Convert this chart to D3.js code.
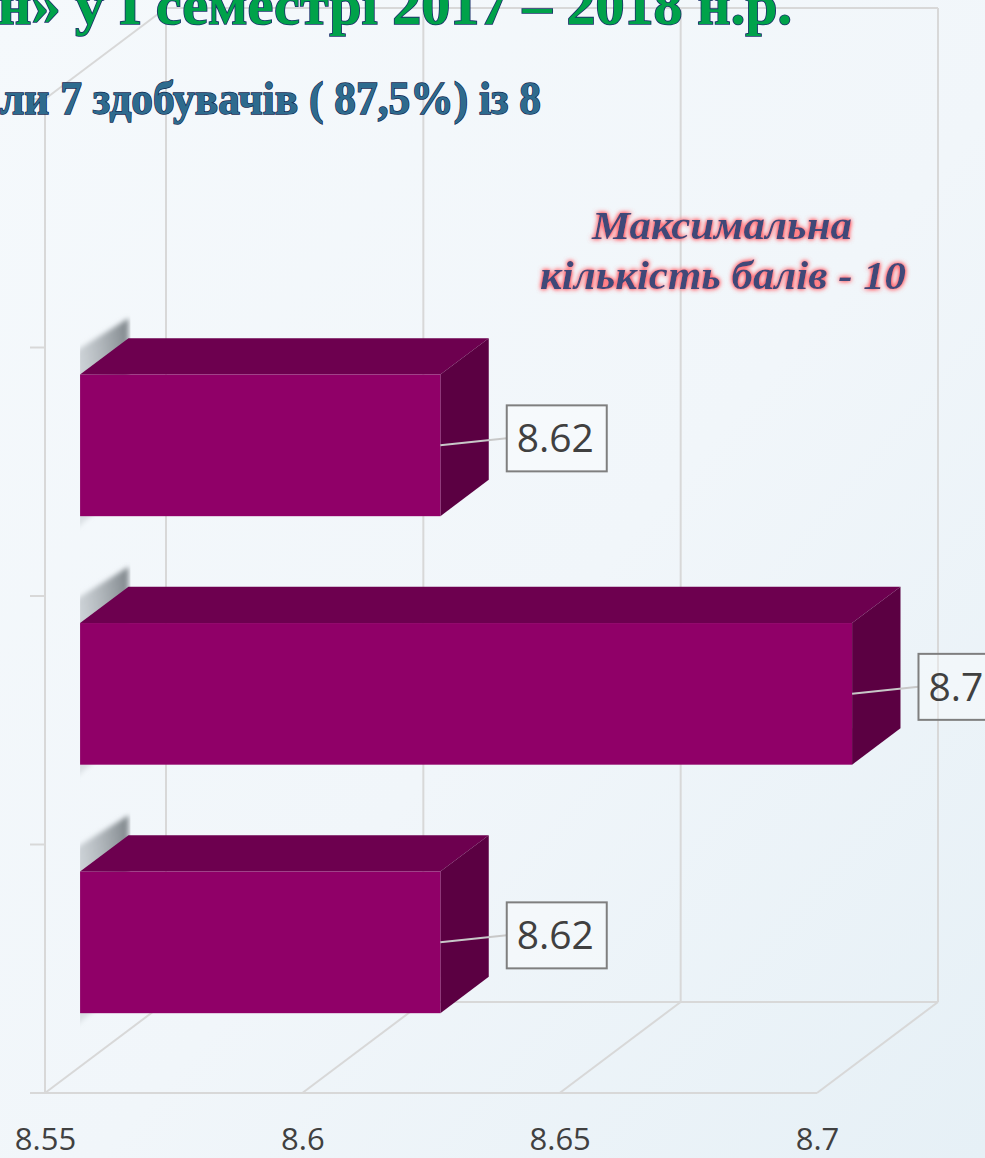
<!DOCTYPE html>
<html>
<head>
<meta charset="utf-8">
<script src="https://cdn.jsdelivr.net/npm/d3@7"></script>
<style>
  body { margin: 0; overflow: hidden; background: #f2f7fb; }
</style>
</head>
<body>
<svg id="chart"></svg>
<script>
const width = 985, height = 1158;

// Data (bottom -> top, top slot is empty in the original chart)
const categories = ["1", "2", "3", "4"];
const values = [8.62, 8.7, 8.62, null];
const xTicks = [8.55, 8.6, 8.65, 8.7];
const titleText = "н» у І семестрі 2017 – 2018 н.р.";
const subtitleText = "ли 7 здобувачів ( 87,5%)  із 8";
const noteLines = ["Максимальна", "кількість балів - 10"];

// Layout of the 3D box (front plane + depth offset)
const plot = { left: 45, right: 817, top: 99, bottom: 1093 };
const depth = { dx: 121, dy: -91 };
const barDepth = [0.29, 0.69];

const svg = d3.select("#chart")
    .attr("width", width)
    .attr("height", height)
    .attr("viewBox", [0, 0, width, height]);

const defs = svg.append("defs");

// Background gradient
const bg = defs.append("linearGradient").attr("id", "bg")
    .attr("x1", 0).attr("y1", 0).attr("x2", 1).attr("y2", 1);
bg.append("stop").attr("offset", "0%").attr("stop-color", "#f5f9fc");
bg.append("stop").attr("offset", "55%").attr("stop-color", "#f1f6fa");
bg.append("stop").attr("offset", "100%").attr("stop-color", "#e6f0f6");

// Blur used for the bar shadows on the side wall
defs.append("filter").attr("id", "soft")
    .attr("x", "-50%").attr("y", "-50%").attr("width", "200%").attr("height", "200%")
    .append("feGaussianBlur").attr("stdDeviation", 2.5);

// Pink glow behind the note text
const glow = defs.append("filter").attr("id", "glow")
    .attr("x", "-10%").attr("y", "-30%").attr("width", "120%").attr("height", "160%");
glow.append("feGaussianBlur").attr("in", "SourceAlpha").attr("stdDeviation", 2.5).attr("result", "b");
glow.append("feFlood").attr("flood-color", "#ff7f86").attr("result", "c");
glow.append("feComposite").attr("in", "c").attr("in2", "b").attr("operator", "in").attr("result", "g");
glow.append("feComponentTransfer").attr("in", "g").attr("result", "g2")
    .append("feFuncA").attr("type", "linear").attr("slope", 2.2);
const gm = glow.append("feMerge");
gm.append("feMergeNode").attr("in", "g2");
gm.append("feMergeNode").attr("in", "SourceGraphic");

const shadowGrad = defs.append("linearGradient").attr("id", "shadowGrad")
    .attr("x1", 1).attr("y1", 0).attr("x2", 0).attr("y2", 0.4);
shadowGrad.append("stop").attr("offset", "0%").attr("stop-color", "#7d8489").attr("stop-opacity", 1);
shadowGrad.append("stop").attr("offset", "100%").attr("stop-color", "#c3c9ce").attr("stop-opacity", 0.5);

svg.append("rect").attr("width", width).attr("height", height).attr("fill", "url(#bg)");

// Scales (front plane)
const xScale = d3.scaleLinear().domain([8.55, 8.7]).range([plot.left, plot.right]);
const yScale = d3.scaleBand().domain(categories)
    .range([plot.bottom, plot.top])
    .paddingInner(0.43)
    .paddingOuter(0.215);

// project a front-plane point to a depth fraction f
const P = (px, py, f) => [px + f * depth.dx, py + f * depth.dy];
const pts = arr => arr.map(p => p.join(",")).join(" ");

const grid = svg.append("g").attr("stroke", "#d8d8d8").attr("stroke-width", 2).attr("fill", "none");

// back wall vertical gridlines
grid.selectAll(".back").data(xTicks).enter().append("line")
    .attr("x1", d => P(xScale(d), plot.top, 1)[0])
    .attr("x2", d => P(xScale(d), plot.top, 1)[0])
    .attr("y1", P(0, plot.top, 1)[1])
    .attr("y2", P(0, plot.bottom, 1)[1]);

// back wall top edge
grid.append("line")
    .attr("x1", P(plot.left, plot.top, 1)[0]).attr("x2", P(plot.right, plot.top, 1)[0])
    .attr("y1", P(0, plot.top, 1)[1]).attr("y2", P(0, plot.top, 1)[1]);

// floor back edge and front edge
grid.append("line")
    .attr("x1", P(plot.left, plot.bottom, 1)[0]).attr("x2", P(plot.right, plot.bottom, 1)[0])
    .attr("y1", P(0, plot.bottom, 1)[1]).attr("y2", P(0, plot.bottom, 1)[1]);
grid.append("line")
    .attr("x1", plot.left - 15).attr("x2", plot.right)
    .attr("y1", plot.bottom).attr("y2", plot.bottom);

// floor diagonals
grid.selectAll(".floor").data(xTicks).enter().append("line")
    .attr("x1", d => xScale(d)).attr("y1", plot.bottom)
    .attr("x2", d => P(xScale(d), plot.bottom, 1)[0])
    .attr("y2", d => P(xScale(d), plot.bottom, 1)[1]);

// side wall: front vertical edge and top diagonal
grid.append("line")
    .attr("x1", plot.left).attr("x2", plot.left)
    .attr("y1", plot.top).attr("y2", plot.bottom);
grid.append("line")
    .attr("x1", plot.left).attr("y1", plot.top)
    .attr("x2", P(plot.left, plot.top, 1)[0]).attr("y2", P(plot.left, plot.top, 1)[1]);

// category ticks on the left axis
const step = yScale.step();
const boundaries = d3.range(categories.length + 1).map(i => plot.top + i * step);
grid.selectAll(".ytick").data(boundaries).enter().append("line")
    .attr("x1", plot.left - 15).attr("x2", plot.left)
    .attr("y1", d => d).attr("y2", d => d);

// Bars
const barData = categories.map((c, i) => ({ c, v: values[i] })).filter(d => d.v != null);
const [f0, f1] = barDepth;

const bars = svg.append("g").selectAll("g").data(barData).enter().append("g");

bars.each(function(d) {
    const g = d3.select(this);
    const x0 = xScale(8.55), x1 = xScale(d.v);
    const top = yScale(d.c), bot = top + yScale.bandwidth();

    // soft shadow of the bar end against the side wall
    const clipId = "clip-" + d.c;
    defs.append("clipPath").attr("id", clipId).append("rect")
        .attr("x", P(x0, 0, f0)[0]).attr("y", 0)
        .attr("width", (f1 - f0) * depth.dx + 2).attr("height", height);
    g.append("g").attr("clip-path", `url(#${clipId})`)
        .append("polygon")
        .attr("points", pts([P(x0 - 10, top - 20, f0), P(x0, top - 20, f1), P(x0, bot + 2, f1), P(x0 - 10, bot + 18, f0)]))
        .attr("fill", "url(#shadowGrad)")
        .attr("filter", "url(#soft)");

    // top face
    g.append("polygon")
        .attr("points", pts([P(x0, top, f0), P(x1, top, f0), P(x1, top, f1), P(x0, top, f1)]))
        .attr("fill", "#6d004f");
    // right side face
    g.append("polygon")
        .attr("points", pts([P(x1, top, f0), P(x1, top, f1), P(x1, bot, f1), P(x1, bot, f0)]))
        .attr("fill", "#5b0042");
    // front face
    const fp = P(x0, top, f0);
    g.append("rect")
        .attr("x", fp[0]).attr("y", fp[1])
        .attr("width", x1 - x0).attr("height", bot - top)
        .attr("fill", "#900068");

    // data label with leader line
    const anchor = P(x1, (top + bot) / 2, f0);
    const bx = P(x1, 0, f1)[0] + 18;
    const by = anchor[1] - 7;
    const lbl = d3.format(".3~f")(d.v);
    const bw = lbl.length > 3 ? 100 : 80, bh = 66;
    g.append("line")
        .attr("x1", anchor[0]).attr("y1", anchor[1])
        .attr("x2", bx).attr("y2", by)
        .attr("stroke", "#c8c8c8").attr("stroke-width", 2);
    g.append("rect")
        .attr("x", bx).attr("y", by - bh / 2)
        .attr("width", bw).attr("height", bh)
        .attr("fill", "rgba(255,255,255,0.35)")
        .attr("stroke", "#7f7f7f").attr("stroke-width", 2);
    g.append("text")
        .attr("x", bx + 10).attr("y", by + 14)
        .attr("font-family", "'Open Sans', sans-serif")
        .attr("font-size", 39)
        .attr("fill", "#404040")
        .text(lbl);
});

// X axis labels
const xAxis = svg.append("g")
    .attr("transform", `translate(0,${plot.bottom})`)
    .call(d3.axisBottom(xScale).tickValues(xTicks).tickSize(0).tickPadding(35)
        .tickFormat(d3.format("~g")));
xAxis.select(".domain").remove();
xAxis.selectAll("text")
    .attr("font-family", "'Open Sans', sans-serif")
    .attr("font-size", 31)
    .attr("fill", "#404040");

// Note text
const note = svg.append("g").attr("filter", "url(#glow)")
    .attr("font-family", "'Liberation Serif', serif")
    .attr("font-weight", "bold").attr("font-style", "italic")
    .attr("fill", "#414a78").attr("font-size", 41);
note.append("text").attr("x", 592).attr("y", 239)
    .attr("textLength", 260).attr("lengthAdjust", "spacingAndGlyphs").text(noteLines[0]);
note.append("text").attr("x", 540).attr("y", 289)
    .attr("textLength", 366).attr("lengthAdjust", "spacingAndGlyphs").text(noteLines[1]);

// Titles (cropped slide header)
svg.append("text")
    .attr("x", -2).attr("y", 24)
    .attr("font-family", "'Liberation Serif', serif").attr("font-weight", "bold")
    .attr("font-size", 56)
    .attr("textLength", 794).attr("lengthAdjust", "spacingAndGlyphs")
    .attr("fill", "#00a24a").attr("stroke", "#1a2f6a").attr("stroke-width", 1.6)
    .attr("paint-order", "stroke")
    .text(titleText);

svg.append("text")
    .attr("x", 0).attr("y", 114)
    .attr("font-family", "'Liberation Serif', serif").attr("font-weight", "bold")
    .attr("font-size", 46)
    .attr("textLength", 541).attr("lengthAdjust", "spacingAndGlyphs")
    .attr("fill", "#2e6b8e").attr("stroke", "#13284f").attr("stroke-width", 1.4)
    .attr("paint-order", "stroke")
    .text(subtitleText);
</script>
</body>
</html>
